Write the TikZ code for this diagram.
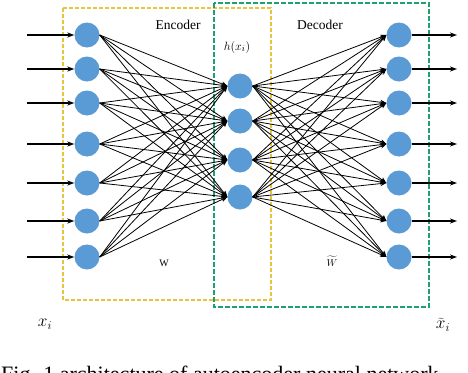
\documentclass[tikz,border=0pt]{standalone}
\usepackage{fontspec}
\setmainfont{Liberation Serif}
\usetikzlibrary{arrows.meta}
\definecolor{nodeblue}{RGB}{91,155,213}
\definecolor{encyellow}{RGB}{230,196,60}
\definecolor{decgreen}{RGB}{32,160,110}
\begin{document}
\begin{tikzpicture}[x=1pt,y=-1pt,
  neuron/.style={circle,fill=nodeblue,minimum size=25pt,inner sep=0pt},
  conn/.style={black,line width=0.8pt,-{Stealth[length=6pt,width=5pt]}},
  io/.style={black,line width=1.1pt,-{Stealth[length=7pt,width=5pt]}},
  lbl/.style={font=\fontsize{13.5}{15}\selectfont}]
\clip (0,0) rectangle (468,372);
\fill[white] (0,0) rectangle (468,372);
% boxes
\draw[encyellow,line width=1.3pt,dash pattern=on 4pt off 2pt] (63,8) rectangle (271,300);
\draw[decgreen,line width=1.5pt,dash pattern=on 5pt off 2pt] (214,3) rectangle (429,307);
% nodes
\foreach \i/\y in {1/35,2/69,3/103,4/144,5/183,6/221,7/257}{
  \node[neuron] (in\i) at (87,\y) {};
  \node[neuron] (out\i) at (399,\y) {};
  \coordinate (s\i) at (27,\y);
  \coordinate (t\i) at (457,\y);
}
\foreach \j/\y in {1/86,2/121,3/160,4/197}{
  \node[neuron] (h\j) at (240,\y) {};
}
% connections
\foreach \i in {1,...,7}{
  \foreach \j in {1,...,4}{
    \draw[conn] (in\i.east) -- (h\j.west);
    \draw[conn] (h\j.east) -- (out\i.west);
  }
  \draw[io] (s\i) -- (in\i.west);
  \draw[io] (out\i.east) -- (t\i);
}
% labels
\node[lbl] (enc) at (178,25) {Encoder};
\node[lbl] (dec) at (320,25) {Decoder};
\node[font=\fontsize{13}{15}\selectfont] (hx) at (237,47) {$h(x_i)$};
\node[font=\fontsize{10}{12}\selectfont] (w) at (164,263) {W};
\node[font=\fontsize{10}{12}\selectfont] (wt) at (332,261) {$\widetilde{W}$};
\node[font=\fontsize{18}{20}\selectfont] (xi) at (45,324) {$x_i$};
\node[font=\fontsize{18}{20}\selectfont] (xt) at (443,325) {$\widetilde{x}_i$};
\node[anchor=north west,inner sep=0pt,font=\fontsize{22}{24}\selectfont] (cap) at (1,366) {Fig. 1 architecture of autoencoder neural network};
\end{tikzpicture}
\end{document}
